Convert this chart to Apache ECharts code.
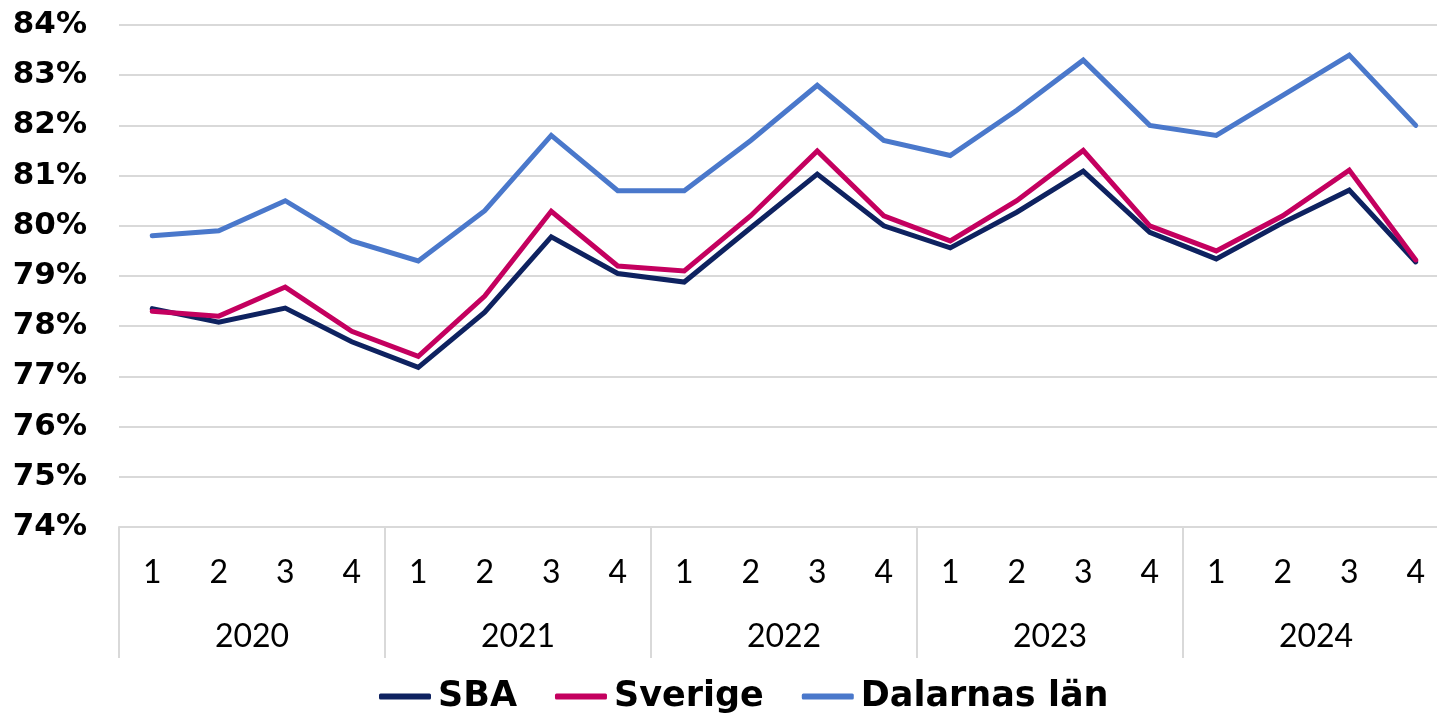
<!DOCTYPE html>
<html>
<head>
<meta charset="utf-8">
<script src="https://cdn.jsdelivr.net/npm/echarts@6/dist/echarts.min.js"></script>
<style>
html, body { margin: 0; padding: 0; background: #fff; overflow: hidden; }
/* the plot in the original runs a little past the right edge */
#chart { width: 1449px; height: 722px; }
</style>
</head>
<body>
<div id="chart"></div>
<script>
// kvartal och år
var quarters = ['1', '2', '3', '4', '1', '2', '3', '4', '1', '2', '3', '4', '1', '2', '3', '4', '1', '2', '3', '4'];
var years = ['2020', '2021', '2022', '2023', '2024'];

// andel i procent
var sba = [78.35, 78.08, 78.36, 77.69, 77.18, 78.28, 79.78, 79.05, 78.88, 79.96, 81.03, 80.0,
	79.56, 80.27, 81.09, 79.87, 79.34, 80.06, 80.71, 79.28];
var sverige = [78.3, 78.2, 78.78, 77.9, 77.4, 78.6, 80.29, 79.2, 79.1, 80.2, 81.49, 80.2,
	79.7, 80.5, 81.5, 80.0, 79.5, 80.2, 81.11, 79.32];
var dalarna = [79.8, 79.9, 80.5, 79.7, 79.3, 80.3, 81.8, 80.7, 80.7, 81.7, 82.8, 81.7,
	81.4, 82.3, 83.3, 82.0, 81.8, 82.6, 83.4, 82.0];

var seriesNames = ['SBA', 'Sverige', 'Dalarnas län'];
var colors = ['#0e2260', '#c4005f', '#4a78cb'];

var myChart = echarts.init(document.getElementById('chart'));

var option = {
	animation: false,
	color: colors,
	grid: { left: 119, right: 0, top: 25, bottom: 195 },
	legend: {
		bottom: 3,
		left: 374,
		icon: 'roundRect',
		itemWidth: 52,
		itemHeight: 6,
		itemGap: 38,
		textStyle: { fontFamily: 'DejaVu Sans', fontWeight: 'bold', fontSize: 35, color: '#000', padding: [0, 0, 0, 2] },
		data: seriesNames
	},
	xAxis: [
		{
			type: 'category',
			data: quarters,
			position: 'bottom',
			axisLine: { lineStyle: { color: '#d9d9d9', width: 2 } },
			axisTick: {
				show: true,
				length: 131,
				interval: function (i) { return i % 4 === 0; },
				lineStyle: { color: '#d9d9d9', width: 2 }
			},
			axisLabel: { margin: 30, fontFamily: 'Lato', fontSize: 32, color: '#000', interval: 0 }
		},
		{
			type: 'category',
			data: years,
			position: 'bottom',
			axisLine: { show: false },
			axisTick: { show: false },
			axisLabel: { margin: 94, fontFamily: 'Lato', fontSize: 32, color: '#000', interval: 0 }
		}
	],
	yAxis: {
		type: 'value',
		min: 74,
		max: 84,
		interval: 1,
		axisLine: { show: false },
		axisTick: { show: false },
		splitLine: { lineStyle: { color: '#d9d9d9', width: 2 } },
		axisLabel: {
			margin: 32,
			formatter: '{value}%',
			fontFamily: 'DejaVu Sans',
			fontWeight: 'bold',
			fontSize: 31,
			color: '#000'
		}
	},
	series: [
		{ name: seriesNames[0], type: 'line', data: sba, symbol: 'none', lineStyle: { width: 5, cap: 'round', join: 'miter' } },
		{ name: seriesNames[1], type: 'line', data: sverige, symbol: 'none', lineStyle: { width: 5, cap: 'round', join: 'miter' } },
		{ name: seriesNames[2], type: 'line', data: dalarna, symbol: 'none', lineStyle: { width: 5, cap: 'round', join: 'miter' } }
	]
};
myChart.setOption(option);
</script>
</body>
</html>
